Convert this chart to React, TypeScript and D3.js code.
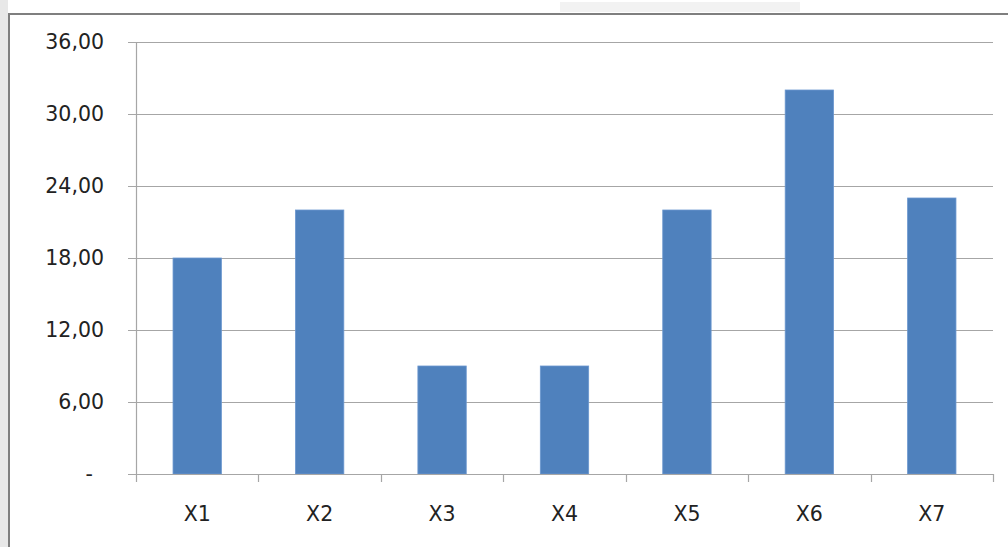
import React, { useEffect, useRef } from "react";
import * as d3 from "d3";

const categories = ["X1", "X2", "X3", "X4", "X5", "X6", "X7"];
const values = [18, 22, 9, 9, 22, 32, 23];
const yTicks = [0, 6, 12, 18, 24, 30, 36];

const W = 1008;
const H = 547;
const plot = { left: 136, right: 993, top: 42, bottom: 474 };

export default function App() {
  const ref = useRef<SVGSVGElement | null>(null);

  useEffect(() => {
    const svg = d3.select(ref.current);
    svg.selectAll("*").remove();

    // background & frame
    svg.append("rect").attr("x", 0).attr("y", 0).attr("width", W).attr("height", H).attr("fill", "#ffffff");
    svg.append("rect").attr("x", 0).attr("y", 0).attr("width", 8).attr("height", H).attr("fill", "#e8e8e8");
    svg.append("rect").attr("x", 560).attr("y", 2).attr("width", 240).attr("height", 10).attr("fill", "#e6e6e6").attr("opacity", 0.5);
    svg.append("line").attr("x1", 9).attr("x2", 9).attr("y1", 14).attr("y2", H).attr("stroke", "#7f7f7f").attr("stroke-width", 2);
    svg.append("line").attr("x1", 8).attr("x2", W).attr("y1", 14).attr("y2", 14).attr("stroke", "#7f7f7f").attr("stroke-width", 2);

    const x = d3.scaleBand<string>().domain(categories).range([plot.left, plot.right]).paddingInner(0.605).paddingOuter(0.3025);
    const xOuter = d3.scaleBand<string>().domain(categories).range([plot.left, plot.right]);
    const y = d3.scaleLinear().domain([0, 36]).range([plot.bottom, plot.top]);

    const fmt = (v: number) => (v === 0 ? "-" : d3.format(".2f")(v).replace(".", ","));

    // gridlines
    svg.append("g").selectAll("line").data(yTicks).join("line")
      .attr("x1", plot.left - 8).attr("x2", plot.right)
      .attr("y1", (d) => Math.round(y(d)) + 0.5).attr("y2", (d) => Math.round(y(d)) + 0.5)
      .attr("stroke", "#a6a6a6").attr("stroke-width", 1.2);

    // y labels
    svg.append("g").selectAll("text").data(yTicks).join("text")
      .attr("x", (d) => (d === 0 ? 93 : 104))
      .attr("y", (d) => y(d))
      .attr("dy", "0.36em")
      .attr("text-anchor", "end")
      .attr("font-family", "DejaVu Sans, Verdana, sans-serif")
      .attr("font-size", 20.5)
      .attr("fill", "#222222")
      .text((d) => fmt(d));

    // bars
    svg.append("g").selectAll("rect").data(values).join("rect")
      .attr("x", (_, i) => x(categories[i])!)
      .attr("y", (d) => y(d))
      .attr("width", x.bandwidth())
      .attr("height", (d) => y(0) - y(d))
      .attr("fill", "#4f81bd")
      .attr("stroke", "#6b97cf")
      .attr("stroke-width", 0.8);

    // y axis line
    svg.append("line").attr("x1", plot.left + 0.5).attr("x2", plot.left + 0.5)
      .attr("y1", plot.top).attr("y2", plot.bottom + 8)
      .attr("stroke", "#a6a6a6").attr("stroke-width", 1.2);

    // x axis line
    svg.append("line").attr("x1", plot.left).attr("x2", plot.right)
      .attr("y1", plot.bottom + 0.5).attr("y2", plot.bottom + 0.5)
      .attr("stroke", "#a6a6a6").attr("stroke-width", 1.2);

    // x ticks at category boundaries
    const bounds = categories.map((c) => xOuter(c)! + xOuter.bandwidth());
    svg.append("g").selectAll("line").data(bounds).join("line")
      .attr("x1", (d) => Math.round(d) + 0.5).attr("x2", (d) => Math.round(d) + 0.5)
      .attr("y1", plot.bottom).attr("y2", plot.bottom + 8)
      .attr("stroke", "#a6a6a6").attr("stroke-width", 1.2);

    // x labels
    svg.append("g").selectAll("text").data(categories).join("text")
      .attr("x", (d) => xOuter(d)! + xOuter.bandwidth() / 2)
      .attr("y", 514)
      .attr("dy", "0.36em")
      .attr("text-anchor", "middle")
      .attr("font-family", "DejaVu Sans, Verdana, sans-serif")
      .attr("font-size", 20.5)
      .attr("fill", "#222222")
      .text((d) => d);
  }, []);

  return (
    <svg
      ref={ref}
      width={W}
      height={H}
      style={{ position: "absolute", left: 0, top: 0, display: "block" }}
    />
  );
}
